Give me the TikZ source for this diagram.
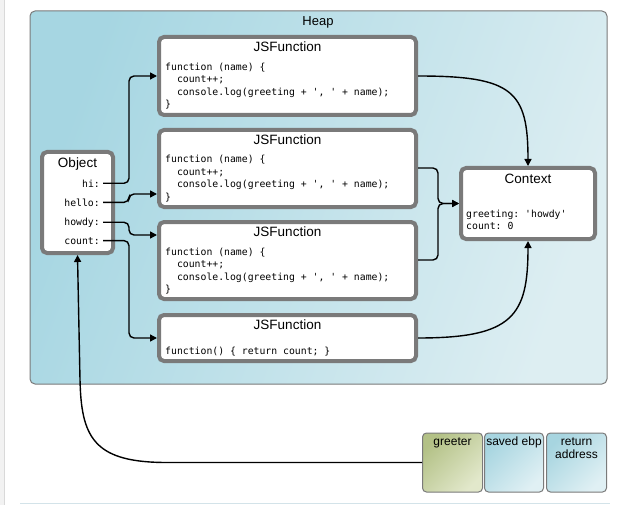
\documentclass[tikz,border=0pt]{standalone}
\usepackage{fontspec}
\setmainfont{Liberation Sans}
\setmonofont{DejaVu Sans Mono}
\usetikzlibrary{arrows.meta,calc}
\definecolor{boxgray}{HTML}{7A7A7A}
\definecolor{heapL}{HTML}{A6D6E2}
\definecolor{heapR}{HTML}{DDEEF2}
\definecolor{greenL}{HTML}{B3C186}
\definecolor{greenR}{HTML}{E2E8CB}
\definecolor{blueL}{HTML}{A7D5E0}
\definecolor{blueR}{HTML}{E0F0F4}
\definecolor{rulecol}{HTML}{D3E3E9}
\newcommand\codeblk[1]{\vtop{\baselineskip=12.4pt\lineskiplimit=-10pt #1}}
\newcommand\stklines[2]{\vtop{\baselineskip=12.5pt\lineskiplimit=-10pt\hbox to 60pt{\hss #1\hss}\hbox to 60pt{\hss #2\hss}}}
\tikzset{
  fnbox/.style={draw=boxgray, line width=4pt, rounded corners=5pt, fill=white, inner sep=0pt},
  ttl/.style={font=\fontsize{13.5}{16}\selectfont, anchor=base, inner sep=0pt},
  codetxt/.style={font=\ttfamily\fontsize{9.8}{12.4}\selectfont, anchor=base west, inner sep=0pt},
  keytxt/.style={font=\ttfamily\fontsize{9.8}{12.4}\selectfont, anchor=base east, inner sep=0pt},
  conn/.style={line width=1.4pt, -{Triangle[length=7pt,width=7pt]}, rounded corners=5pt},
  stackbox/.style={draw=boxgray, line width=1pt, rounded corners=4pt, inner sep=0pt, minimum height=59pt},
  stacktxt/.style={font=\fontsize{12}{13}\selectfont, anchor=base, inner sep=0pt},
}
\begin{document}
\begin{tikzpicture}[x=1pt,y=-1pt]
\useasboundingbox (0,0) rectangle (623,505);
\fill[white] (0,0) rectangle (623,505);
\fill[black!5] (0,0) rectangle (4,505);
\draw[black!15] (4,0) -- (4,505);
\draw[rulecol, line width=1pt] (20,503) -- (610,503);

% heap
\node[draw=boxgray, line width=1pt, rounded corners=5pt, left color=heapL, right color=heapR, shading angle=70,
      minimum width=577pt, minimum height=373pt, inner sep=0pt] (heap) at (318.5,197.5) {};
\node[ttl, font=\fontsize{13}{15}\selectfont] (heaplbl) at (318,25.5) {Heap};

% function boxes
\node[fnbox, minimum width=257pt, minimum height=78pt] (f1) at (287.5,76) {};
\node[fnbox, minimum width=257pt, minimum height=77pt] (f2) at (287.5,168.5) {};
\node[fnbox, minimum width=257pt, minimum height=77pt] (f3) at (287.5,260.5) {};
\node[fnbox, minimum width=257pt, minimum height=46pt] (f4) at (287.5,338) {};

\node[ttl] (t1) at (287.5,51.8) {JSFunction};
\node[ttl] (t2) at (287.5,144.8) {JSFunction};
\node[ttl] (t3) at (287.5,236.8) {JSFunction};
\node[ttl] (t4) at (287.5,329.8) {JSFunction};

\node[codetxt] (c1) at (165,70.5) {\codeblk{\hbox{function (name) \{}\hbox{\ \ count++;}\hbox{\ \ console.log(greeting + ', ' + name);}\hbox{\}}}};
\node[codetxt] (c2) at (165,163) {\codeblk{\hbox{function (name) \{}\hbox{\ \ count++;}\hbox{\ \ console.log(greeting + ', ' + name);}\hbox{\}}}};
\node[codetxt] (c3) at (165,255.5) {\codeblk{\hbox{function (name) \{}\hbox{\ \ count++;}\hbox{\ \ console.log(greeting + ', ' + name);}\hbox{\}}}};
\node[codetxt] (c4) at (165,354.5) {function() \{ return count; \}};

% object
\node[fnbox, minimum width=71pt, minimum height=101pt] (obj) at (77.5,202.5) {};
\node[ttl] (objlbl) at (77.5,167.8) {Object};
\node[keytxt] (hi) at (100,187) {hi:};
\node[keytxt] (hello) at (100,206) {hello:};
\node[keytxt] (howdy) at (100,225) {howdy:};
\node[keytxt] (count) at (100,244) {count:};

% context
\node[fnbox, minimum width=134pt, minimum height=71pt] (ctx) at (528,203.5) {};
\node[ttl] (ctxlbl) at (528,183.8) {Context};
\node[codetxt] (ctxcode) at (466,217) {\codeblk{\hbox{greeting: 'howdy'}\hbox{count: 0}}};

% stack
\node[stackbox, minimum width=60pt, left color=greenL, right color=greenR, shading angle=45] (greeter) at (452.5,462.5) {};
\node[stackbox, minimum width=59pt, left color=blueL, right color=blueR, shading angle=45] (ebp) at (514,462.5) {};
\node[stackbox, minimum width=60pt, left color=blueL, right color=blueR, shading angle=45] (ret) at (576.5,462.5) {};
\node[stacktxt] (greeterlbl) at (452.5,445.5) {greeter};
\node[stacktxt] (ebplbl) at (514,445.5) {saved ebp};
\node[stacktxt] (retlbl) at (576.5,445.5) {\stklines{return}{address}};

% connectors
\coordinate (bus) at (129,0);
\coordinate (mx) at (438,0);
\coordinate (e1) at (f1.west);
\coordinate (e2) at (f2.west |- 0,194);
\coordinate (e3) at (f3.west |- 0,235);
\coordinate (e4) at (f4.west);
\draw[conn] ([xshift=3pt]hi.east) -| (bus |- e1) -- (e1);
\draw[conn] ([xshift=3pt]hello.east) -| (bus |- e2) -- (e2);
\draw[conn] ([xshift=3pt]howdy.east) -| (bus |- e3) -- (e3);
\draw[conn] ([xshift=3pt]count.east) -| (bus |- e4) -- (e4);

\coordinate (s2) at (f2.east |- 0,168);
\coordinate (s3) at (f3.east |- 0,260);
\draw[conn] (s2) -| (mx |- ctx.west) -- (ctx.west);
\draw[conn] (s3) -| (mx |- ctx.west) -- (ctx.west);
\draw[conn] (f1.east) .. controls +(95,0) and +(0,-75) .. (ctx.north);
\draw[conn] (f4.east) .. controls +(95,0) and +(0,75) .. (ctx.south);

\draw[conn] (greeter.west) -- ++(-250,0) .. controls +(-75,0) and +(2,60) .. (80,380) -- (obj.south);
\end{tikzpicture}
\end{document}
